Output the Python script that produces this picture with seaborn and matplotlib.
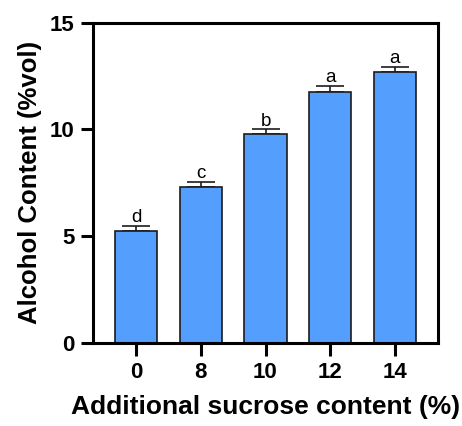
import matplotlib
matplotlib.use("Agg")
import matplotlib.pyplot as plt
import seaborn as sns
import pandas as pd
import numpy as np

categories = ["0", "8", "10", "12", "14"]
means = [5.25, 7.31, 9.78, 11.77, 12.67]
errors = [0.25, 0.24, 0.22, 0.26, 0.25]
letters = ["d", "c", "b", "a", "a"]

sns.set_theme(style="white")
plt.rcParams['font.family'] = ['Liberation Sans', 'DejaVu Sans']
plt.rcParams['text.color'] = 'black'
plt.rcParams['axes.labelcolor'] = 'black'
plt.rcParams['xtick.color'] = 'black'
plt.rcParams['ytick.color'] = 'black'

df = pd.DataFrame({"sucrose": categories, "alcohol": means})

fig = plt.figure(figsize=(4.62, 4.26), dpi=100)
ax = fig.add_axes([92.7/462, 1 - 343/426, (438.3-92.7)/462, (343-22.7)/426])

sns.barplot(data=df, x="sucrose", y="alcohol", order=categories, color="#549EFD",
            saturation=1, width=0.65, edgecolor="#1c1c1c", linewidth=1.2, ax=ax, errorbar=None, zorder=2)

xs = np.arange(len(categories))
ax.errorbar(xs, means, yerr=[np.zeros(len(means)), errors], fmt="none",
            ecolor="#1c1c1c", elinewidth=1.2, capsize=10, capthick=1.2, zorder=1)

for x, m, e, l in zip(xs, means, errors, letters):
    ax.text(x, m + e + 0.17, l, ha="center", va="baseline", fontsize=13.5, color="black")

ax.set_ylim(0, 15)
ax.set_xlim(-0.67, 4.67)
ax.set_yticks([0, 5, 10, 15])
for s in ax.spines.values():
    s.set_linewidth(2.2)
    s.set_color("black")
ax.tick_params(axis="both", which="major", direction="out", length=9, width=2.2,
               color="black", labelcolor="black", labelsize=16, pad=4, bottom=True, left=True)
ax.tick_params(axis="x", pad=5)
for lab in ax.get_xticklabels() + ax.get_yticklabels():
    lab.set_fontweight("bold")
ax.set_xlabel("Additional sucrose content (%)", fontsize=19, fontweight="bold", labelpad=8, color="black")
ax.set_ylabel("Alcohol Content (%vol)", fontsize=18.5, fontweight="bold", labelpad=6, color="black")

fig.savefig("out.png", dpi=100)
